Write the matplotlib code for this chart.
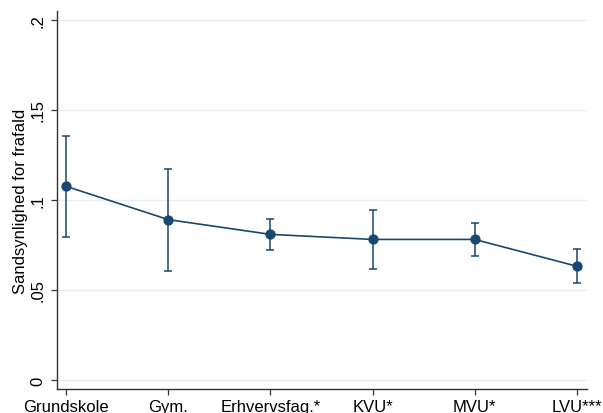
import matplotlib.pyplot as plt
import numpy as np

plt.rcParams['font.family'] = ['Liberation Sans', 'DejaVu Sans']

categories = ['Grundskole', 'Gym.', 'Erhvervsfag.*', 'KVU*', 'MVU*', 'LVU***']
estimates = [0.1076, 0.0891, 0.0809, 0.0781, 0.0781, 0.0632]
ci_low = [0.0796, 0.0607, 0.0724, 0.0617, 0.0691, 0.0537]
ci_high = [0.1357, 0.1174, 0.0893, 0.0944, 0.0874, 0.0728]
yticks = [0, 0.05, 0.1, 0.15, 0.2]
ytick_labels = ['0', '.05', '.1', '.15', '.2']

navy = '#1a476f'

fig = plt.figure(figsize=(6.03, 4.14), dpi=100)
W, H = 603, 414
ax = fig.add_axes([57 / W, (H - 390) / H, (587 - 57) / W, (390 - 12) / H])

x = np.arange(len(categories))
est = np.array(estimates)
yerr = [est - np.array(ci_low), np.array(ci_high) - est]

ax.errorbar(x, est, yerr=yerr, fmt='none', ecolor=navy, elinewidth=1.1,
            capsize=3, capthick=1.1, zorder=3)
ax.plot(x, est, color=navy, linewidth=1.2, marker='o', markersize=6.4,
        markerfacecolor=navy, markeredgecolor=navy, zorder=4)

ax.set_xlim(-0.09, 5.1)
ax.set_ylim(-0.005, 0.205)
ax.set_xticks(x)
ax.set_xticklabels(categories, fontsize=12)
ax.set_yticks(yticks)
ax.set_yticklabels(ytick_labels, fontsize=12, rotation=90, va='center')
ax.set_ylabel('Sandsynlighed for frafald', fontsize=12, labelpad=2)

ax.grid(axis='y', color='#e6eef1', linewidth=1)
ax.set_axisbelow(True)
for side in ['top', 'right']:
    ax.spines[side].set_visible(False)
for side in ['left', 'bottom']:
    ax.spines[side].set_linewidth(1.0)
    ax.spines[side].set_color('#333333')
ax.tick_params(axis='both', length=4.3, width=0.9, color='#333333')
ax.tick_params(axis='x', pad=3.2)
ax.tick_params(axis='y', pad=4)

fig.savefig('out.png', dpi=100)
